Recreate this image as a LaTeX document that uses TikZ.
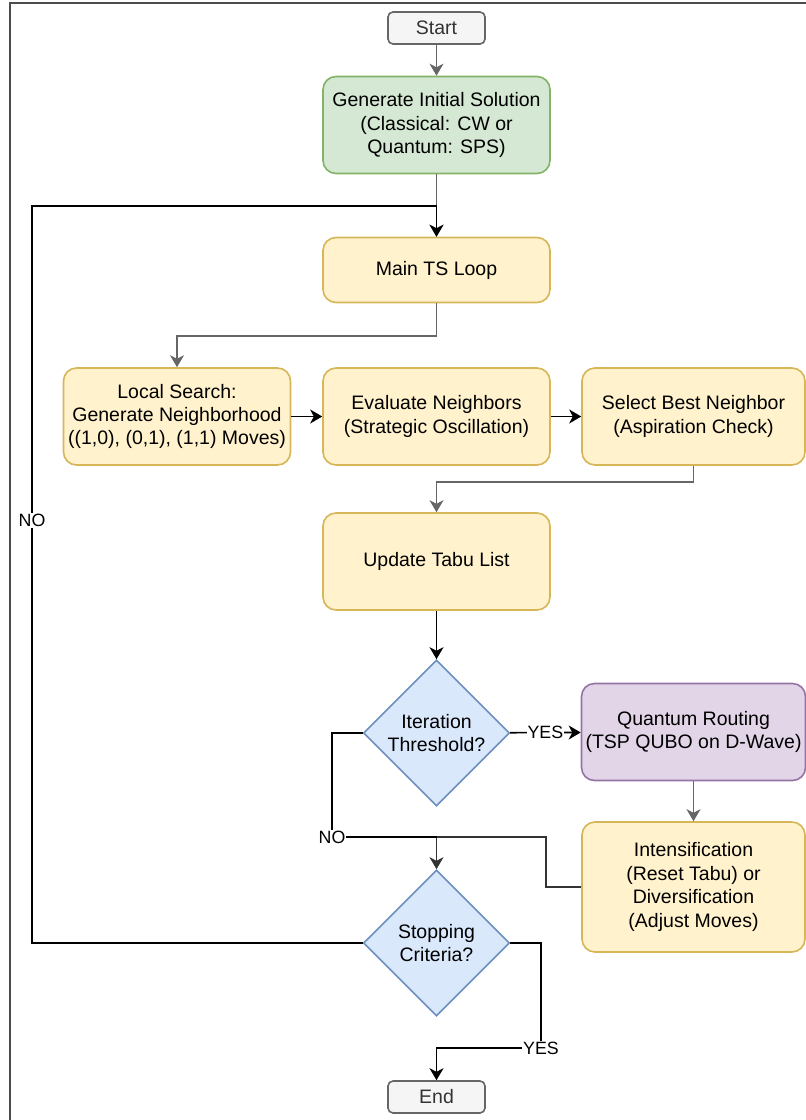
\documentclass[tikz,border=0pt]{standalone}
\usepackage{fontspec}
\setmainfont{Liberation Sans}
\usepackage{tikz}
\usetikzlibrary{shapes.geometric,arrows.meta}
\definecolor{fcyellow}{RGB}{255, 242, 204}
\definecolor{fcyellowln}{RGB}{214, 182, 86}
\definecolor{fcgreen}{RGB}{213, 232, 212}
\definecolor{fcgreenln}{RGB}{130, 179, 102}
\definecolor{fcblue}{RGB}{218, 232, 252}
\definecolor{fcblueln}{RGB}{108, 142, 191}
\definecolor{fcpurple}{RGB}{225, 213, 231}
\definecolor{fcpurpleln}{RGB}{150, 115, 166}
\definecolor{fcgray}{RGB}{245, 245, 245}
\definecolor{fcgrayln}{RGB}{102, 102, 102}
\definecolor{fcdark}{RGB}{51, 51, 51}

\begin{document}
\begin{tikzpicture}[x=0.5pt, y=-0.5pt,
  font=\fontsize{9.75}{11.7}\selectfont,
  box/.style={draw=fcyellowln, fill=fcyellow, rounded corners=6.5pt, line width=0.8pt,
    align=center, inner sep=2pt, minimum width=113.5pt, minimum height=48.5pt},
  term/.style={draw=fcgrayln, fill=fcgray, text=fcdark, rounded corners=2.5pt,
    line width=0.8pt, minimum width=48.5pt, minimum height=16pt, inner sep=1pt},
  test/.style={diamond, draw=fcblueln, fill=fcblue, line width=0.8pt, align=center,
    inner sep=0pt, aspect=1, minimum width=73pt, minimum height=73pt},
  arr/.style={-{Stealth[length=6pt, width=7pt, inset=1.8pt]}, line width=0.8pt, black},
  garr/.style={arr, fcgrayln},
  darr/.style={arr, fcdark},
  line/.style={line width=0.8pt, black},
  lbl/.style={fill=white, inner sep=0.5pt, font=\fontsize{8.9}{10}\selectfont}]
\useasboundingbox (0,0) rectangle (806,1120);

% Outer frame
\draw[black!70, line width=1pt] (10,1120) -- (10,3) -- (806,3);

% Main column
\node[term] (start) at (436.5,28) {Start};
\node[box, fill=fcgreen, draw=fcgreenln] (gen) at (436.5,125)
  {Generate Initial Solution\\(Classical: CW or\\Quantum: SPS)};
\node[box, minimum height=32.5pt] (main) at (436.5,270) {Main TS Loop};

% Neighborhood row
\node[box] (local) at (177,416.5)
  {Local Search:\\Generate Neighborhood\\((1,0), (0,1), (1,1) Moves)};
\node[box] (eval) at (436.5,416.5) {Evaluate Neighbors\\(Strategic Oscillation)};
\node[box, minimum width=111.5pt] (sel) at (693.5,416.5)
  {Select Best Neighbor\\(Aspiration Check)};

\node[box] (upd) at (436.5,561.5) {Update Tabu List};

% Decisions
\node[test] (iter) at (436.5,733) {Iteration\\Threshold?};
\node[box, fill=fcpurple, draw=fcpurpleln, minimum width=111.5pt] (qr) at (693.5,732)
  {Quantum Routing\\(TSP QUBO on D-Wave)};
\node[box, minimum width=111.5pt, minimum height=65pt] (int) at (693.5,887)
  {Intensification\\(Reset Tabu) or\\Diversification\\(Adjust Moves)};
\node[test] (stop) at (436.5,943) {Stopping\\Criteria?};
\node[term] (end) at (436.5,1097) {End};

% Connectors
\draw[garr] (start) -- (gen);
\draw[garr] (gen) -- (main);
\draw[garr] (main.south) -- ++(0,32.5) -| (local.north);
\draw[arr] (local) -- (eval);
\draw[arr] (eval) -- (sel);
\draw[garr] (sel.south) -- ++(0,16) -| (upd.north);
\draw[arr] (upd) -- (iter);
\draw[arr] (iter) -- node[lbl] {YES} (qr);
\draw[garr] (qr) -- (int);

% Back to the stopping test
\coordinate (intbend) at (546,837);
\coordinate (nojoin) at (332,837);
\draw[darr] (int.west) -| (intbend) -| (stop.north);
\draw[line] (iter.west) -| (nojoin) node[lbl] {NO} -- (nojoin -| stop.north);

% Loop and exit
\coordinate (loopc) at (32,206);
\draw[arr] (stop.west) -- (stop.west -| loopc) -- node[lbl, pos=0.573] {NO} (loopc) -| (main.north);
\coordinate (yesc) at (541,1048);
\draw[arr] (stop.east) -| (yesc) node[lbl] {YES} -| (end.north);
\end{tikzpicture}
\end{document}
